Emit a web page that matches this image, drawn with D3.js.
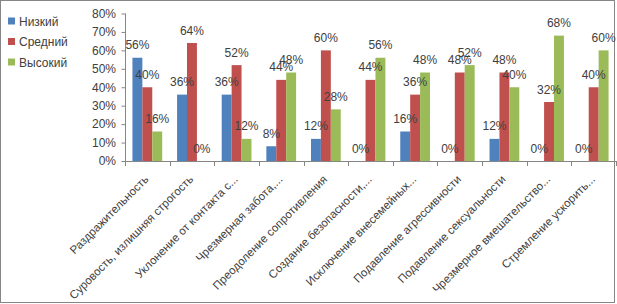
<!DOCTYPE html>
<html>
<head>
    <meta charset="utf-8">
    <style>
        body { margin: 0; background: #fff; }
        text { font-family: "Liberation Sans", Arial, sans-serif; fill: #404040; }
    </style>
</head>
<body>
    <svg width="617" height="304"></svg>
    <script src="https://d3js.org/d3.v7.min.js"></script>
    <script>
        let categories = ["Раздражительность", "Суровость, излишняя строгость", "Уклонение от контакта с...",
            "Чрезмерная забота,...", "Преодоление сопротивления", "Создание безопасности,...",
            "Исключение внесемейных...", "Подавление агрессивности", "Подавление сексуальности",
            "Чрезмерное вмешательство...", "Стремление ускорить..."];
        let seriesNames = ["Низкий", "Средний", "Высокий"];
        let low = [56, 36, 36, 8, 12, 0, 16, 0, 12, 0, 0];
        let mid = [40, 64, 52, 44, 60, 44, 36, 48, 48, 32, 40];
        let high = [16, 0, 12, 48, 28, 56, 48, 52, 40, 68, 60];
        let yTicks = [0, 10, 20, 30, 40, 50, 60, 70, 80];
        let colors = ["#4F81BD", "#C0504D", "#9BBB59"];

        let seriesValues = [low, mid, high];
        let svg = d3.select("svg");

        let plotLeft = 125, plotRight = 616, plotTop = 13.5, plotBottom = 161;

        let x0 = d3.scaleBand().domain(categories).range([plotLeft, plotRight]).padding(0);
        let step = x0.bandwidth();
        let b = step / 4.5;
        let x1 = d3.scaleBand().domain(seriesNames).range([0.75 * b, 3.75 * b]).padding(0);
        let y = d3.scaleLinear().domain([0, 80]).range([plotBottom, plotTop]);

        // frame
        svg.append("rect")
            .attr("x", 0.5).attr("y", 0.5)
            .attr("width", 614).attr("height", 302)
            .attr("fill", "none").attr("stroke", "#868686");

        // y axis
        let yAxis = svg.append("g").attr("transform", "translate(" + plotLeft + ",0)")
            .call(d3.axisLeft(y).tickValues(yTicks).tickSize(4).tickPadding(5)
                .tickFormat(function(d) { return d + "%"; }));
        yAxis.selectAll("line, path").attr("stroke", "#868686");
        yAxis.select(".domain").attr("d", "M0.5," + plotTop + "V" + plotBottom);
        yAxis.selectAll("line").attr("x1", 0.5).attr("x2", -3.5);
        yAxis.selectAll("text").style("font-size", "12px").attr("fill", "#404040")
            .style("font-family", "Liberation Sans, Arial, sans-serif");

        // x axis
        let xg = svg.append("g");
        xg.append("line")
            .attr("x1", plotLeft).attr("x2", plotRight)
            .attr("y1", plotBottom + 0.5).attr("y2", plotBottom + 0.5)
            .attr("stroke", "#868686");
        xg.selectAll(".tk").data(categories.concat([null])).enter()
            .append("line")
            .attr("x1", function(d, i) { return Math.round(plotLeft + i * step) + 0.5; })
            .attr("x2", function(d, i) { return Math.round(plotLeft + i * step) + 0.5; })
            .attr("y1", plotBottom).attr("y2", plotBottom + 5)
            .attr("stroke", "#868686");

        xg.selectAll(".cat").data(categories).enter()
            .append("text")
            .attr("text-anchor", "end")
            .style("font-size", "11.5px")
            .attr("transform", function(d) {
                let cx = x0(d) + step / 2 + 2;
                return "translate(" + cx + "," + (plotBottom + 19) + ") rotate(-45)";
            })
            .text(function(d) { return d; });

        // bars
        let groups = svg.selectAll(".series").data(seriesNames).enter()
            .append("g").attr("fill", function(d, i) { return colors[i]; });

        groups.each(function(name, si) {
            let g = d3.select(this);
            let vals = seriesValues[si];
            g.selectAll("rect").data(vals).enter()
                .append("rect")
                .attr("x", function(v, i) { return x0(categories[i]) + x1(name); })
                .attr("width", x1.bandwidth())
                .attr("y", function(v) { return y(v); })
                .attr("height", function(v) { return plotBottom - y(v); });
        });

        // data labels
        groups.each(function(name, si) {
            let vals = seriesValues[si];
            svg.append("g").selectAll("text").data(vals).enter()
                .append("text")
                .attr("text-anchor", "middle")
                .style("font-size", "12px")
                .attr("x", function(v, i) { return x0(categories[i]) + x1(name) + x1.bandwidth() / 2; })
                .attr("y", function(v) { return y(v) - 8.5; })
                .text(function(v) { return v + "%"; });
        });

        // legend
        let legend = svg.append("g");
        seriesNames.forEach(function(name, i) {
            let ly = 21 + i * 20.5;
            legend.append("rect")
                .attr("x", 8).attr("y", ly - 3.5)
                .attr("width", 7).attr("height", 7)
                .attr("fill", colors[i]);
            legend.append("text")
                .attr("x", 19).attr("y", ly + 4.5)
                .style("font-size", "12px")
                .text(name);
        });
    </script>
</body>
</html>
